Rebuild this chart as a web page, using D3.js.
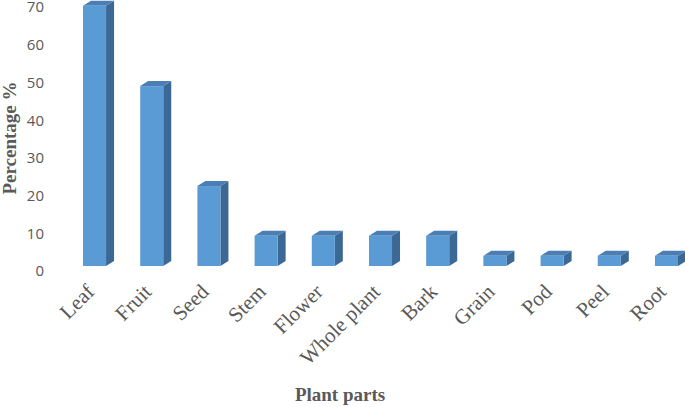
<!DOCTYPE html>
<html>
<head>
<meta charset="utf-8">
<script src="https://cdn.jsdelivr.net/npm/d3@7"></script>
<style>
  html, body { margin: 0; padding: 0; background: #fff; }
  #plot { width: 685px; height: 407px; }
</style>
</head>
<body>
<div id="plot"></div>
<script>
// Plant parts share (3D-style column chart)
const parts = ['Leaf', 'Fruit', 'Seed', 'Stem', 'Flower', 'Whole plant', 'Bark', 'Grain', 'Pod', 'Peel', 'Root'];
const percentages = [69, 47.7, 21.2, 8, 8, 8, 8, 2.7, 2.7, 2.7, 2.7];
const yTicks = [0, 10, 20, 30, 40, 50, 60, 70];

const W = 685, H = 407;
const depthX = 8, depthY = 5;

const svg = d3.select('#plot').append('svg').attr('width', W).attr('height', H);

const x = d3.scaleBand().domain(parts).range([83, 678]).paddingInner(0.597).paddingOuter(0);
const y = d3.scaleLinear().domain([0, 70]).range([266, 2]);

// y tick labels (no axis line in the source)
svg.append('g')
  .selectAll('text')
  .data(yTicks)
  .enter()
  .append('text')
  .attr('x', 44)
  .attr('y', (d) => y(d) + 5)
  .attr('dy', '0.36em')
  .attr('text-anchor', 'end')
  .style('font-family', '"Open Sans", "Liberation Sans", sans-serif')
  .style('font-size', '15px')
  .style('fill', '#595959')
  .text((d) => d);

const data = parts.map((p, i) => ({ part: p, value: percentages[i] }));

const bars = svg.append('g').selectAll('g').data(data).enter().append('g');

// side face
bars.append('path')
  .attr('d', (d) => {
    const x1 = x(d.part) + x.bandwidth();
    const y0 = y(0), y1 = y(d.value);
    return `M${x1},${y1}L${x1 + depthX},${y1 - depthY}L${x1 + depthX},${y0 - depthY}L${x1},${y0}Z`;
  })
  .attr('fill', '#3B6894');

// top face
bars.append('path')
  .attr('d', (d) => {
    const x0 = x(d.part), x1 = x0 + x.bandwidth();
    const y1 = y(d.value);
    return `M${x0},${y1}L${x0 + depthX},${y1 - depthY}L${x1 + depthX},${y1 - depthY}L${x1},${y1}Z`;
  })
  .attr('fill', '#4A7EB5');

// front face
bars.append('rect')
  .attr('x', (d) => x(d.part))
  .attr('y', (d) => y(d.value))
  .attr('width', x.bandwidth())
  .attr('height', (d) => y(0) - y(d.value))
  .attr('fill', '#5B9BD5');

// category labels, rotated
svg.append('g')
  .selectAll('text')
  .data(parts)
  .enter()
  .append('text')
  .attr('transform', (d) => `translate(${x(d) + x.bandwidth() / 2 + 1},${293}) rotate(-45)`)
  .attr('text-anchor', 'end')
  .style('font-family', '"Liberation Serif", "Times New Roman", serif')
  .style('font-size', '21px')
  .style('fill', '#595959')
  .text((d) => d);

// axis titles
svg.append('text')
  .attr('transform', 'translate(16,138) rotate(-90)')
  .attr('text-anchor', 'middle')
  .style('font-family', '"Liberation Serif", "Times New Roman", serif')
  .style('font-size', '19px')
  .style('font-weight', 'bold')
  .style('fill', '#595959')
  .text('Percentage %');

svg.append('text')
  .attr('x', 340)
  .attr('y', 401)
  .attr('text-anchor', 'middle')
  .style('font-family', '"Liberation Serif", "Times New Roman", serif')
  .style('font-size', '19px')
  .style('font-weight', 'bold')
  .style('fill', '#595959')
  .text('Plant parts');
</script>
</body>
</html>
